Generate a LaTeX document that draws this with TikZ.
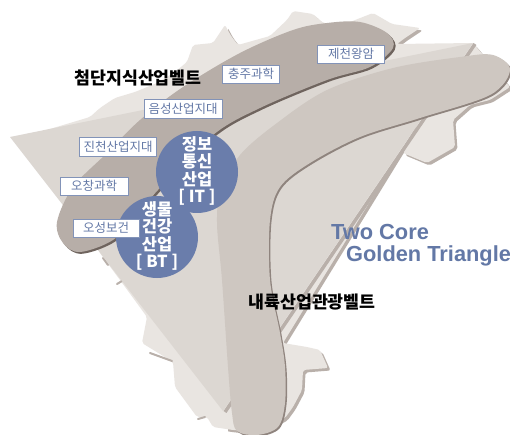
\documentclass[tikz,border=0pt]{standalone}
\usepackage{fontspec}
\setmainfont{Noto Sans CJK KR}
\newfontfamily\latinbold{Liberation Sans}[BoldFont={Liberation Sans Bold}]
\definecolor{landc}{HTML}{E9E5E1}
\definecolor{landsh}{HTML}{B9B0AA}
\definecolor{triac}{HTML}{DCD7D2}
\definecolor{beltA}{HTML}{B7AEA8}
\definecolor{beltB}{HTML}{CEC7C1}
\definecolor{edgeA}{HTML}{6F645E}
\definecolor{edgeB}{HTML}{8F847E}
\definecolor{coreblue}{HTML}{6A7DAB}
\definecolor{labelblue}{HTML}{6378A6}
\tikzset{
  sitebox/.style={draw=labelblue!80,line width=.9pt,fill=white,inner sep=0pt,text=labelblue,font=\fontsize{12.5}{13}\selectfont,anchor=center},
  core/.style={circle,fill=coreblue,minimum size=82pt,inner sep=0pt},
  coretext/.style={text=white,font=\fontsize{16.5}{17.3}\selectfont\bfseries,align=center,inner sep=0pt},
  belttitle/.style={text=black,font=\fontsize{17.3}{18}\selectfont\bfseries,inner sep=0pt},
  goldtext/.style={text=labelblue,font=\latinbold\bfseries\fontsize{21.8}{23}\selectfont,inner sep=0pt,anchor=west},
  coastmark/.style={landsh,line width=2pt,line cap=round},
}
\def\landpath{(40,132) -- (90,117) -- (100,108) -- (115,98) -- (135,92) -- (157,83) -- (175,72) -- (187,62) -- (193,45) -- (213,43) -- (225,25) -- (231,36) -- (238,45) -- (270,36) -- (287,20) -- (293,11) -- (313,14) -- (323,23) -- (345,24) -- (373,13) -- (392,24) -- (420,28) -- (405,38) -- (397,44) -- (473,43) -- (510,87) -- (490,100) -- (470,105) -- (453,120) -- (455,147) -- (427,163) -- (403,153) -- (420,120) -- (283,343) -- (307,347) -- (320,350) -- (328,368) -- (303,370) -- (302,390) -- (293,407) -- (285,418) -- (260,432) -- (233,430) -- (213,427) -- (207,417) -- (197,417) -- (175,387) -- (173,362) -- (142,343) -- (147,317) -- (120,280) -- (100,253) -- cycle}
\def\beltApath{plot[smooth cycle,tension=.55] coordinates {(57,222) (73,187) (107,153) (140,120) (183,87) (240,53) (293,30) (327,23) (360,22) (387,33) (393,48) (370,67) (327,80) (260,108) (213,135) (158,190) (140,213) (113,240) (80,252) (63,243)}}
\def\beltBpath{plot[smooth cycle,tension=.55] coordinates {(510,70) (493,55) (460,57) (393,68) (327,90) (277,123) (240,155) (221,190) (217,223) (222,280) (228,367) (232,413) (237,431) (257,435) (278,427) (285,403) (285,367) (280,333) (270,280) (270,220) (280,187) (310,163) (360,137) (420,118) (490,95)}}
\begin{document}
\begin{tikzpicture}[x=1pt,y=-1pt]
\useasboundingbox (0,0) rectangle (510,435);
\fill[white] (0,0) rectangle (510,435);
% land
\begin{scope}
\clip (228,0) rectangle (510,435);
\fill[landsh,shift={(2.5,2.5)},rounded corners=2pt] \landpath;
\end{scope}
\fill[landc,rounded corners=2pt] \landpath;
\draw[coastmark] (103,258) -- (108,265);
\draw[coastmark] (117,284) -- (122,281);
\draw[coastmark] (150,353) -- (172,361);
\draw[coastmark] (198,419) -- (205,417);
% triangle
\draw[landsh,line width=3.5pt] (475,44) -- (225,412);
\fill[triac] (10,137) -- (473,43) -- (223,411) -- cycle;
% belts
\fill[edgeA,shift={(1.8,1.8)}] \beltApath;
\fill[beltA] \beltApath;
\fill[edgeB,shift={(1.5,1.5)}] \beltBpath;
\fill[beltB] \beltBpath;
% cores
\node[core] (it) at (197,172) {};
\node[core] (bt) at (157,237) {};
\node[coretext] (ittext) at (197,171) {정보\\통신\\산업\\{[ IT ]}};
\node[coretext] (bttext) at (157,236) {생물\\건강\\산업\\{[ BT ]}};
% site labels
\node[sitebox,minimum width=57pt,minimum height=18pt] (chungju) at (251,74) {충주과학};
\node[sitebox,minimum width=78pt,minimum height=19pt] (eumseong) at (183,109) {음성산업지대};
\node[sitebox,minimum width=77pt,minimum height=19pt] (jincheon) at (118,147) {진천산업지대};
\node[sitebox,minimum width=68pt,minimum height=18pt] (ochang) at (94,186) {오창과학};
\node[sitebox,minimum width=66pt,minimum height=18pt] (osong) at (106,228) {오성보건};
\node[sitebox,minimum width=67pt,minimum height=18pt] (jecheon) at (351,54) {제천왕암};
% titles
\node[belttitle] (adv) at (138,78) {첨단지식산업벨트};
\node[belttitle] (inland) at (312,302) {내륙산업관광벨트};
\node[goldtext] (two) at (331,232) {Two Core};
\node[goldtext] (golden) at (346,256) {Golden Triangle};
\end{tikzpicture}
\end{document}
